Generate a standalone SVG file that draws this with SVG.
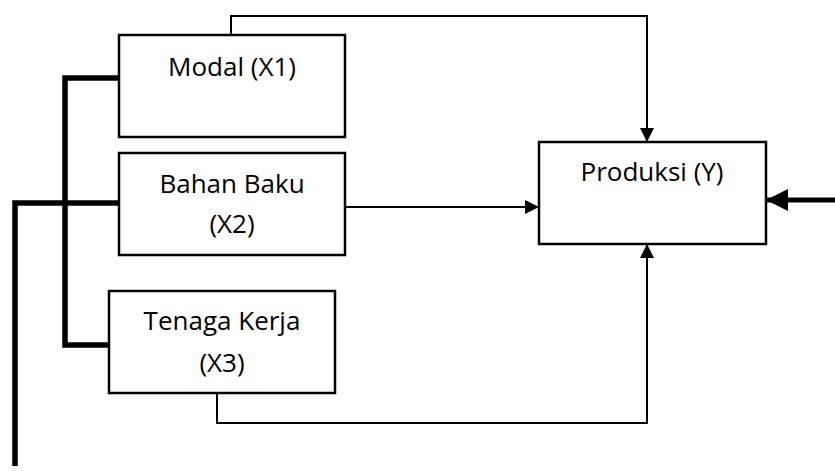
<svg xmlns="http://www.w3.org/2000/svg" width="835" height="471" viewBox="0 0 835 471">
  <style>
    .box { fill: #fff; stroke: #000; stroke-width: 2.5; }
    .lbl { font-family: "Open Sans", "Liberation Sans", sans-serif; font-size: 26px; fill: #000; text-anchor: middle; }
    .thin { fill: none; stroke: #000; stroke-width: 2; }
    .thick { fill: none; stroke: #000; stroke-width: 5.5; }
  </style>
  <defs>
    <marker id="arr" viewBox="0 0 10 10" refX="10" refY="5" markerWidth="14" markerHeight="14" markerUnits="userSpaceOnUse" orient="auto">
      <path d="M0,0 L10,5 L0,10 Z" fill="#000"/>
    </marker>
    <marker id="arrBig" viewBox="0 0 10 10" refX="10" refY="5" markerWidth="23" markerHeight="22" markerUnits="userSpaceOnUse" orient="auto">
      <path d="M0,0 L10,5 L0,10 Z" fill="#000"/>
    </marker>
  </defs>

  <g id="connectors">
    <!-- thick bracket joining the three inputs -->
    <path class="thick" d="M119,78 H65 V345 H109"/>
    <path class="thick" d="M65,203 H119"/>
    <path class="thick" d="M15,466 V203 H65"/>
    <!-- inputs into production -->
    <path class="thin" d="M231,35 V16 H647 V142" marker-end="url(#arr)"/>
    <path class="thin" d="M345,207 H539" marker-end="url(#arr)"/>
    <path class="thin" d="M217,393 V423 H647 V244" marker-end="url(#arr)"/>
    <!-- external input on the right -->
    <path fill="none" stroke="#000" stroke-width="5" d="M835,200 H766" marker-end="url(#arrBig)"/>
  </g>

  <g id="modal">
    <rect class="box" x="119" y="35" width="226" height="102"/>
    <text class="lbl" x="232" y="76">Modal (X1)</text>
  </g>
  <g id="bahan-baku">
    <rect class="box" x="119" y="153" width="226" height="102"/>
    <text class="lbl" x="232" y="193">Bahan Baku</text>
    <text class="lbl" x="232" y="233">(X2)</text>
  </g>
  <g id="tenaga-kerja">
    <rect class="box" x="109" y="291" width="226" height="102"/>
    <text class="lbl" x="222" y="330">Tenaga Kerja</text>
    <text class="lbl" x="222" y="372">(X3)</text>
  </g>
  <g id="produksi">
    <rect class="box" x="539" y="142" width="227" height="102"/>
    <text class="lbl" x="652" y="181">Produksi (Y)</text>
  </g>
</svg>
